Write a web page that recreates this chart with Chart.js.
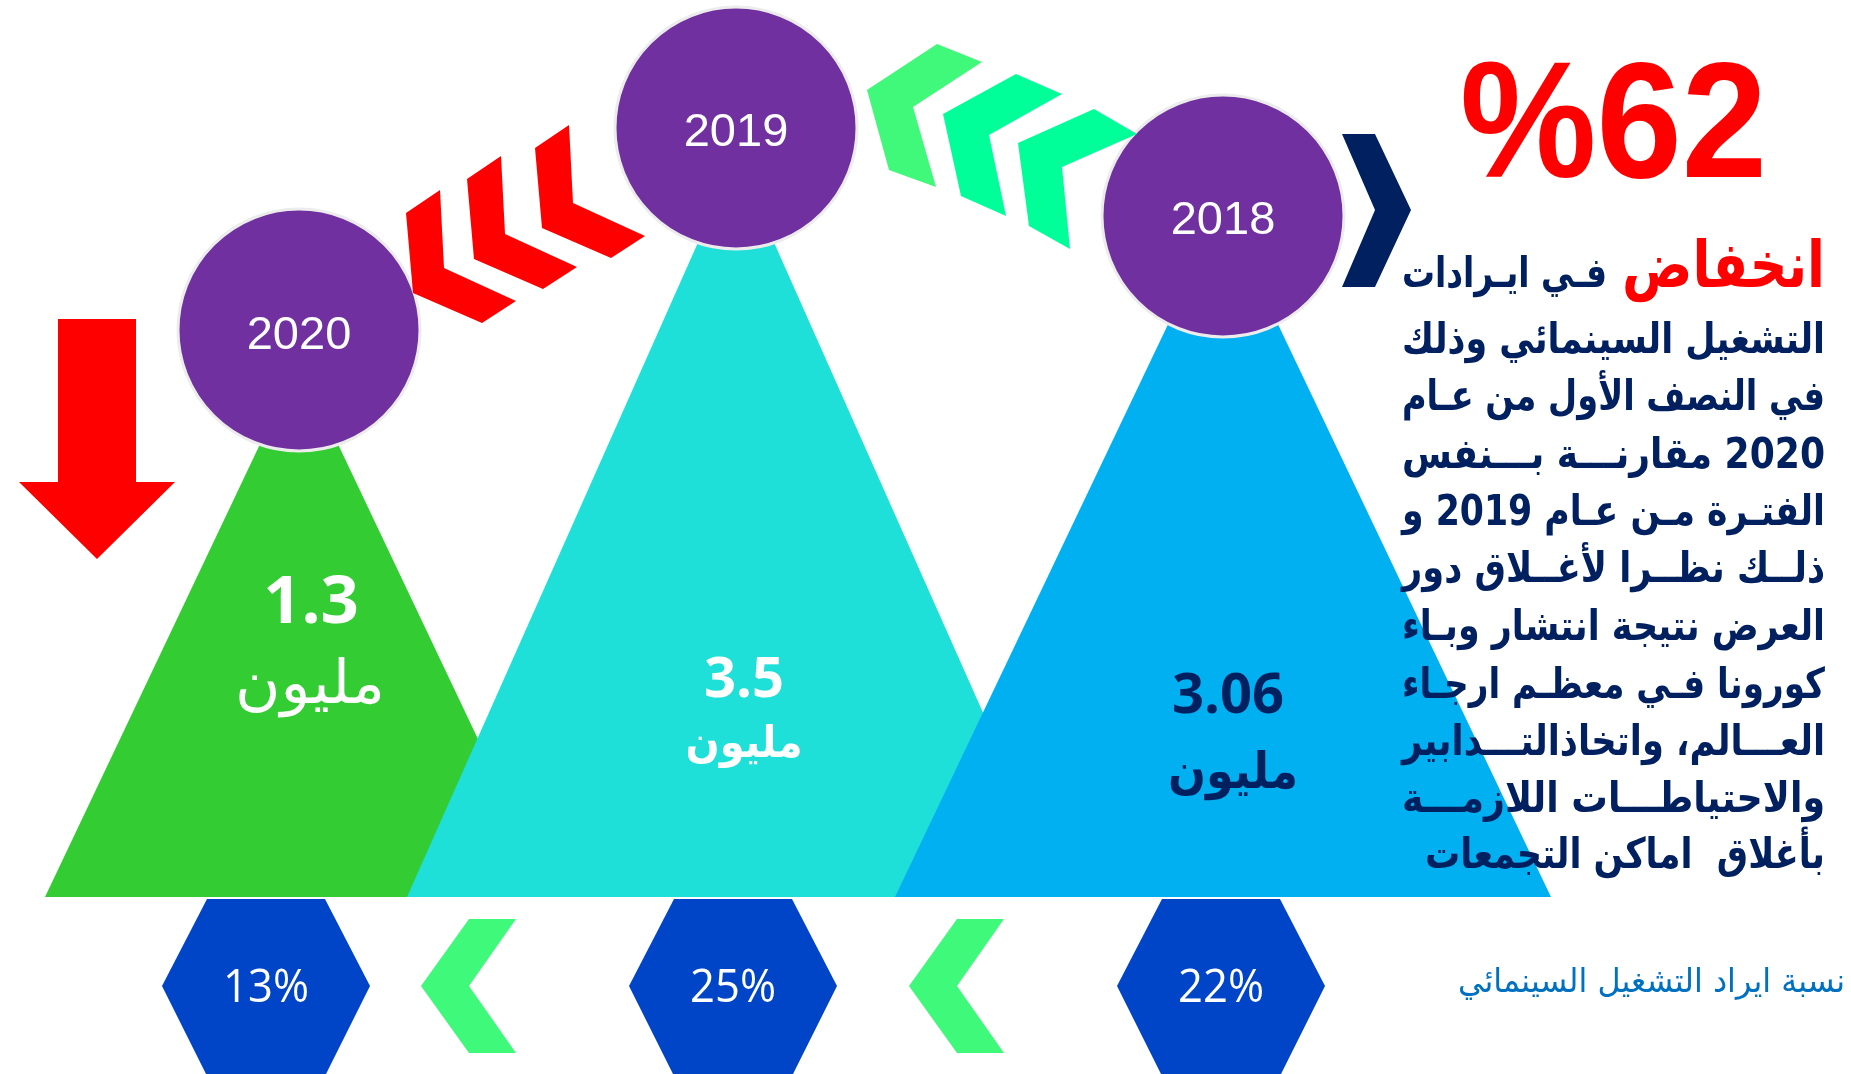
<!DOCTYPE html>
<html>
<head>
<meta charset="utf-8">
<script src="https://cdn.jsdelivr.net/npm/chart.js@4"></script>
<style>
  html, body { margin: 0; padding: 0; background: #fff; }
  canvas { display: block; }
</style>
</head>
<body>
<canvas id="chart" width="1851" height="1074"></canvas>
<script>
const years = ['2020', '2019', '2018'];
const revenueMillions = [1.3, 3.5, 3.06];
const revenueShare = [13, 25, 22];
const declinePct = 62;
const unitLabel = 'مليون';
const shareCaption = 'نسبة ايراد التشغيل السينمائي';
const headWord = 'انخفاض';
const headRest = 'فـي ايـرادات';
const paragraph = [
  'التشغيل السينمائي وذلك',
  'في النصف الأول من عـام',
  '2020 مقارنـــة بـــنفس',
  'الفتـرة مـن عـام 2019 و',
  'ذلــك نظــرا لأغــلاق دور',
  'العرض نتيجة انتشار وبـاء',
  'كورونا فـي معظـم ارجـاء',
  'العـــالم، واتخاذالتـــدابير',
  'والاحتياطـــات اللازمـــة',
  'بأغلاق  اماكن التجمعات'
];

// layout (page units = pixels of the 1851x1074 picture)
const W = 1851, H = 1074;
const centerX = [299, 736, 1223];
const circleY = [330, 128, 216];
const apexY = [362, 157, 209];
const halfBase = [254, 329, 328];
const BASE_Y = 897;
const hexX = [266, 733, 1221];
const HEX_Y = 986;

const triColors = ['#33CC33', '#1FDFD9', '#00B0F0'];
const valueColors = ['#ffffff', '#ffffff', '#002060'];
const PURPLE = '#7030A0';
const HEX_BLUE = '#0045C7';
const NAVY = '#002060';
const RED = '#FF0000';

// decorative shapes
const redChevron = [[406, 213], [440, 190], [444, 268], [516, 301], [482, 323], [413, 293]];
const redChevronShift = [[0, 0], [61, -34], [129, -65]];
const greenChevrons = [
  [[867, 90], [937, 44], [982, 62], [913, 107], [936, 187], [889, 170]],
  [[943, 114], [1016, 74], [1062, 94], [989, 135], [1006, 216], [961, 196]],
  [[1018, 143], [1094, 109], [1137, 134], [1062, 167], [1070, 249], [1029, 226]]
];
const greenChevronColors = ['#40F87A', '#00FF99', '#00FF99'];
const bottomChevron = [[469, 919], [516, 919], [469, 986], [516, 1053], [469, 1053], [421, 986]];
const bottomChevronShift = [0, 488];
const navyChevron = [[1342, 134], [1375, 134], [1411, 210], [1375, 287], [1342, 287], [1375, 210]];
const downArrow = [[58, 319], [136, 319], [136, 482], [175, 482], [97, 559], [19, 482], [58, 482]];

const toPts = arr => arr.map(([x, y]) => ({x, y}));

function polygon(points, color, order) {
  return {
    type: 'line',
    data: toPts(points),
    backgroundColor: color,
    borderColor: 'rgba(0,0,0,0)',
    borderWidth: 0,
    fill: 'shape',
    pointRadius: 0,
    tension: 0,
    order: order
  };
}

let datasets = [];

// revenue triangles, back to front
years.forEach((yr, i) => {
  datasets.push(polygon([
    [centerX[i] - halfBase[i], BASE_Y],
    [centerX[i], apexY[i]],
    [centerX[i] + halfBase[i], BASE_Y]
  ], triColors[i], 20 - i));
});

// share hexagons
revenueShare.forEach((v, i) => {
  const cx = hexX[i];
  datasets.push(polygon([
    [cx - 59, BASE_Y + 2], [cx + 59, BASE_Y + 2], [cx + 104, HEX_Y],
    [cx + 59, H + 2], [cx - 59, H + 2], [cx - 104, HEX_Y]
  ], HEX_BLUE, 10));
});

// year circles
datasets.push({
  type: 'scatter',
  data: years.map((yr, i) => ({x: centerX[i], y: circleY[i]})),
  pointRadius: 121,
  pointHoverRadius: 121,
  pointStyle: 'circle',
  backgroundColor: PURPLE,
  borderColor: '#ECECEC',
  borderWidth: 3,
  order: 5
});

// chevrons and arrow on top
redChevronShift.forEach(([dx, dy]) => {
  datasets.push(polygon(redChevron.map(([x, y]) => [x + dx, y + dy]), RED, 1));
});
greenChevrons.forEach((pts, i) => datasets.push(polygon(pts, greenChevronColors[i], 1)));
bottomChevronShift.forEach(dx => {
  datasets.push(polygon(bottomChevron.map(([x, y]) => [x + dx, y]), '#3EF97A', 1));
});
datasets.push(polygon(navyChevron, NAVY, 1));
datasets.push(polygon(downArrow, RED, 1));

function fitText(ctx, text, x, y, font, color, width, align, dir) {
  ctx.save();
  ctx.font = font;
  ctx.fillStyle = color;
  ctx.direction = dir || 'rtl';
  ctx.textAlign = align;
  ctx.textBaseline = 'alphabetic';
  const w = ctx.measureText(text).width;
  ctx.translate(x, y);
  if (width) ctx.scale(width / w, 1);
  ctx.fillText(text, 0, 0);
  ctx.restore();
}

const labelsPlugin = {
  id: 'infoLabels',
  afterDatasetsDraw(chart) {
    const ctx = chart.ctx;
    const xs = chart.scales.x, ys = chart.scales.y;
    const px = v => xs.getPixelForValue(v);
    const py = v => ys.getPixelForValue(v);

    // year labels
    const yearBase = [349, 146, 234];
    years.forEach((yr, i) => {
      fitText(ctx, yr, px(centerX[i]), py(yearBase[i]), '47px "Liberation Sans", Arial, sans-serif', '#ffffff', null, 'center', 'ltr');
    });

    // revenue values
    const valFont = ['bold 67px "Open Sans"', 'bold 56px "Open Sans"', 'bold 56px "Open Sans"'];
    const valX = [311, 744, 1228];
    const valBase = [623, 697, 713];
    const unitFont = ['60px "DejaVu Sans"', 'bold 44px "DejaVu Sans"', 'bold 50px "DejaVu Sans"'];
    const unitX = [310, 744, 1233];
    const unitBase = [703, 757, 788];
    const unitW = [150, 117, 130];
    revenueMillions.forEach((v, i) => {
      fitText(ctx, String(v), px(valX[i]), py(valBase[i]), valFont[i], valueColors[i], null, 'center', 'ltr');
      fitText(ctx, unitLabel, px(unitX[i]), py(unitBase[i]), unitFont[i], valueColors[i], unitW[i], 'center', 'rtl');
    });

    // share values
    revenueShare.forEach((v, i) => {
      fitText(ctx, v + '%', px(hexX[i]), py(1002), '45px "Open Sans"', '#ffffff', 86, 'center', 'ltr');
    });

    // headline
    fitText(ctx, '%' + declinePct, px(1767), py(177), 'bold 165px "Liberation Sans", Arial, sans-serif', RED, 307, 'right', 'ltr');
    fitText(ctx, headWord, px(1825), py(287), 'bold 64px "DejaVu Sans"', RED, 203, 'right', 'rtl');
    fitText(ctx, headRest, px(1607), py(287), 'bold 42px "DejaVu Sans"', NAVY, 205, 'right', 'rtl');

    // paragraph
    const lineBase = [353, 410, 468, 525, 582, 640, 698, 755, 812, 868];
    paragraph.forEach((line, i) => {
      const w = i === paragraph.length - 1 ? 400 : 423;
      fitText(ctx, line, px(1825), py(lineBase[i]), 'bold 42px "DejaVu Sans"', NAVY, w, 'right', 'rtl');
    });

    // caption
    fitText(ctx, shareCaption, px(1845), py(992), '33px "DejaVu Sans"', '#0070C0', 387, 'right', 'rtl');
  }
};

new Chart(document.getElementById('chart'), {
  type: 'scatter',
  data: { datasets: datasets },
  plugins: [labelsPlugin],
  options: {
    responsive: false,
    animation: false,
    events: [],
    layout: { padding: 0, autoPadding: false },
    plugins: {
      legend: { display: false },
      tooltip: { enabled: false }
    },
    scales: {
      x: { type: 'linear', min: 0, max: W, display: false },
      y: { type: 'linear', min: 0, max: H, reverse: true, display: false }
    }
  }
});
</script>
</body>
</html>
